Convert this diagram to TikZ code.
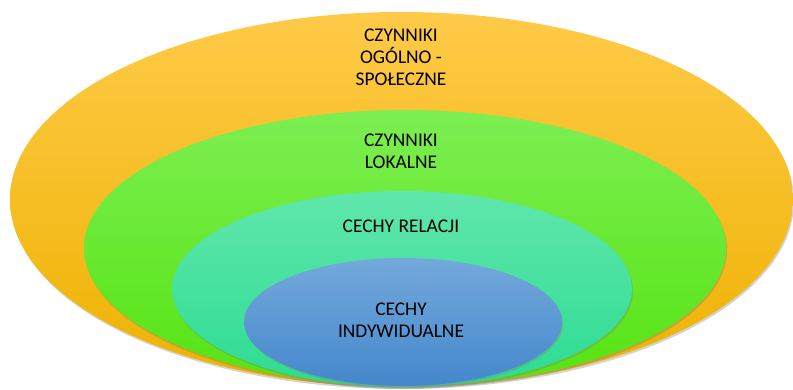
\documentclass[tikz,border=0pt]{standalone}
\usepackage{fontspec}
\setmainfont{Carlito}
\usetikzlibrary{shadows}
\begin{document}
\begin{tikzpicture}[x=1pt, y=1pt,
  ring/.style={drop shadow={shadow xshift=1pt, shadow yshift=-2pt, opacity=0.35}},
  lbl/.style={align=center, text=black, font=\fontsize{19.4}{22}\selectfont}]
\useasboundingbox (0,0) rectangle (793,389);
\definecolor{orangetop}{HTML}{FFCA48}
\definecolor{orangemid}{HTML}{FFC300}
\definecolor{orangebot}{HTML}{EDB200}
\definecolor{greentop}{HTML}{7CEE52}
\definecolor{greenbot}{HTML}{55E412}
\definecolor{tealtop}{HTML}{60E6AC}
\definecolor{tealbot}{HTML}{2CDC92}
\definecolor{bluetop}{HTML}{74A9DB}
\definecolor{bluebot}{HTML}{4487CC}
\shade[ring, top color=orangetop, middle color=orangemid, bottom color=orangebot] (401.5,189.5) ellipse [x radius=391.5, y radius=187.5];
\shade[ring, top color=greentop, bottom color=greenbot] (405,141) ellipse [x radius=321, y radius=138];
\shade[ring, top color=tealtop, bottom color=tealbot] (402,100) ellipse [x radius=230, y radius=98];
\shade[ring, top color=bluetop, bottom color=bluebot] (403,67) ellipse [x radius=159, y radius=64];
\node[lbl] (ogolne) at (401,332) {CZYNNIKI\\OGÓLNO -\\SPOŁECZNE};
\node[lbl] (lokalne) at (401,237.5) {CZYNNIKI\\LOKALNE};
\node[lbl] (relacje) at (401,163) {CECHY RELACJI};
\node[lbl] (indyw) at (401,68.5) {CECHY\\INDYWIDUALNE};
\end{tikzpicture}
\end{document}
